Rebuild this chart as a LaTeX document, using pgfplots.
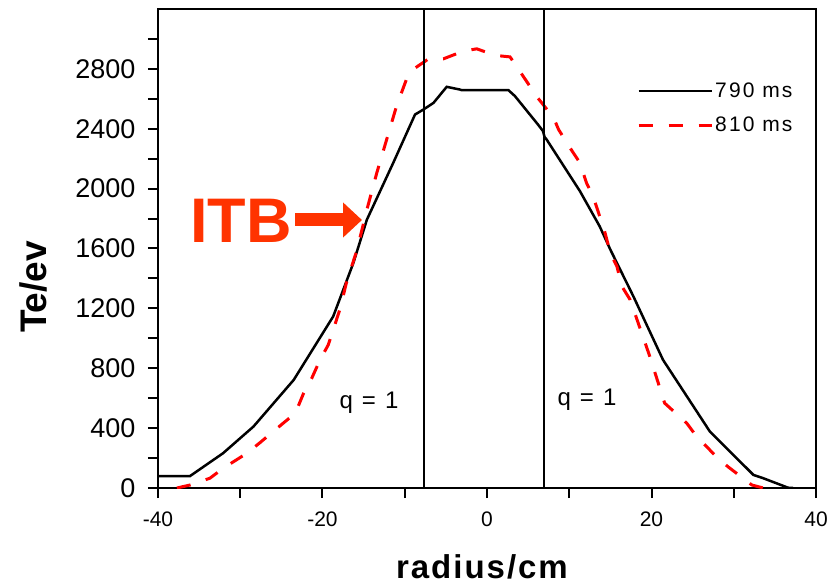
\documentclass[border=0pt]{standalone}
\usepackage{fontspec}
\setmainfont{Liberation Sans}
\newfontfamily\lsfont[LetterSpace=10]{Liberation Sans}
\newfontfamily\lbfont[LetterSpace=6]{Liberation Sans}
\usepackage{pgfplots}
\pgfplotsset{compat=1.18}
\usetikzlibrary{arrows.meta}
\definecolor{itb}{RGB}{255,51,0}
\begin{document}
\begin{tikzpicture}
\begin{axis}[name=ax, width=658pt, height=479pt, scale only axis,
  xmin=-40, xmax=40, ymin=0, ymax=3200,
  axis line style={line width=2pt},
  tick style={line width=2pt, black},
  major tick length=10pt, minor tick length=10pt,
  tick align=outside, tick pos=left,
  xtick={-40,-20,0,20,40}, minor xtick={-30,-10,10,30},
  ytick={0,400,...,2800}, minor ytick={200,600,...,3000},
  /pgf/number format/assume math mode=true,
  /pgf/number format/1000 sep={},
  xticklabel style={font=\fontsize{21}{25}\selectfont, yshift=-10pt},
  yticklabel style={font=\fontsize{27}{32}\selectfont, xshift=-9pt},
  legend style={draw=none, fill=none, at={(0.728,0.85)}, anchor=north west,
    font=\lsfont\fontsize{21}{25}\selectfont, row sep=14pt, inner sep=0pt},
  legend cell align=left,
  legend image code/.code={\draw[#1] (0pt,0pt) -- (73pt,0pt);},
]
\addplot[black, line width=2.5pt] coordinates {
(-40,80) (-36.1,80) (-32.1,232) (-28.4,410) (-23.5,722) (-18.7,1146) (-16.25,1503)
(-14.6,1793) (-11.4,2172) (-8.75,2495) (-7.74,2528) (-6.5,2573) (-4.9,2680) (-3.3,2662)
(-3.1,2658) (2.6,2658) (3.4,2618) (6.2,2428) (6.8,2385) (7.0,2345) (7.25,2328)
(11.3,1983) (13.7,1748) (15,1592) (17.8,1280) (21.4,856) (27.1,377) (32.4,87)
(33.6,65) (36.6,2) (37.2,0)
};
\addlegendentry{790 ms}
\addplot[red, line width=3pt, dash pattern=on 14pt off 16pt] coordinates {
(-37.7,0) (-36.1,20) (-33.7,65) (-32.1,131) (-29.2,232) (-27.6,303) (-24.8,432)
(-23.3,500) (-22.3,633) (-21.3,734) (-20.3,856) (-19.3,956) (-18.5,1090) (-17.9,1191)
(-17.1,1369) (-15.8,1592) (-14.6,1860) (-13.4,2105) (-12.2,2328) (-11,2551) (-9.8,2729)
(-9,2796) (-7.1,2867) (-5.3,2867) (-2.9,2918) (-1.25,2934) (1,2890) (2.8,2880)
(4.8,2718) (6.0,2618) (8.1,2473) (8.7,2395) (10.1,2272) (11.3,2172) (12.1,2038)
(12.9,1948) (13.7,1815) (14.3,1715) (15,1570) (15.8,1480) (16.4,1347) (17.4,1258)
(19.8,878) (21.6,567) (24.3,432) (25.5,343) (27.9,209) (29.3,142) (32.2,20) (33.6,0)
};
\addlegendentry{810 ms}
\addplot[black, line width=2pt, forget plot] coordinates {(-7.7,0) (-7.7,3200)};
\addplot[black, line width=2pt, forget plot] coordinates {(6.9,0) (6.9,3200)};
\end{axis}
% annotations
\node[anchor=base, rotate=90, font=\bfseries\fontsize{37}{40}\selectfont]
  at ([shift={(-111pt,201pt)}]ax.south west) {Te/ev};
\node[anchor=base, font=\lbfont\bfseries\fontsize{33}{36}\selectfont]
  at ([shift={(324pt,-90pt)}]ax.south west) {radius/cm};
\node[anchor=base west, inner sep=0pt, text=itb, font=\bfseries\fontsize{63}{66}\selectfont]
  at ([shift={(32pt,245pt)}]ax.south west) {ITB};
\draw[itb, line width=13pt, -{Triangle[length=19pt,width=34pt]}]
  ([shift={(137pt,268pt)}]ax.south west) -- ([shift={(204pt,268pt)}]ax.south west);
\node[font=\lsfont\fontsize{24}{28}\selectfont] at ([shift={(211pt,85pt)}]ax.south west) {q = 1};
\node[font=\lsfont\fontsize{24}{28}\selectfont] at ([shift={(429pt,88pt)}]ax.south west) {q = 1};
\pgfresetboundingbox
\path[use as bounding box] ([shift={(-158pt,-98pt)}]ax.south west) rectangle ([shift={(16pt,9pt)}]ax.north east);
\end{tikzpicture}
\end{document}
